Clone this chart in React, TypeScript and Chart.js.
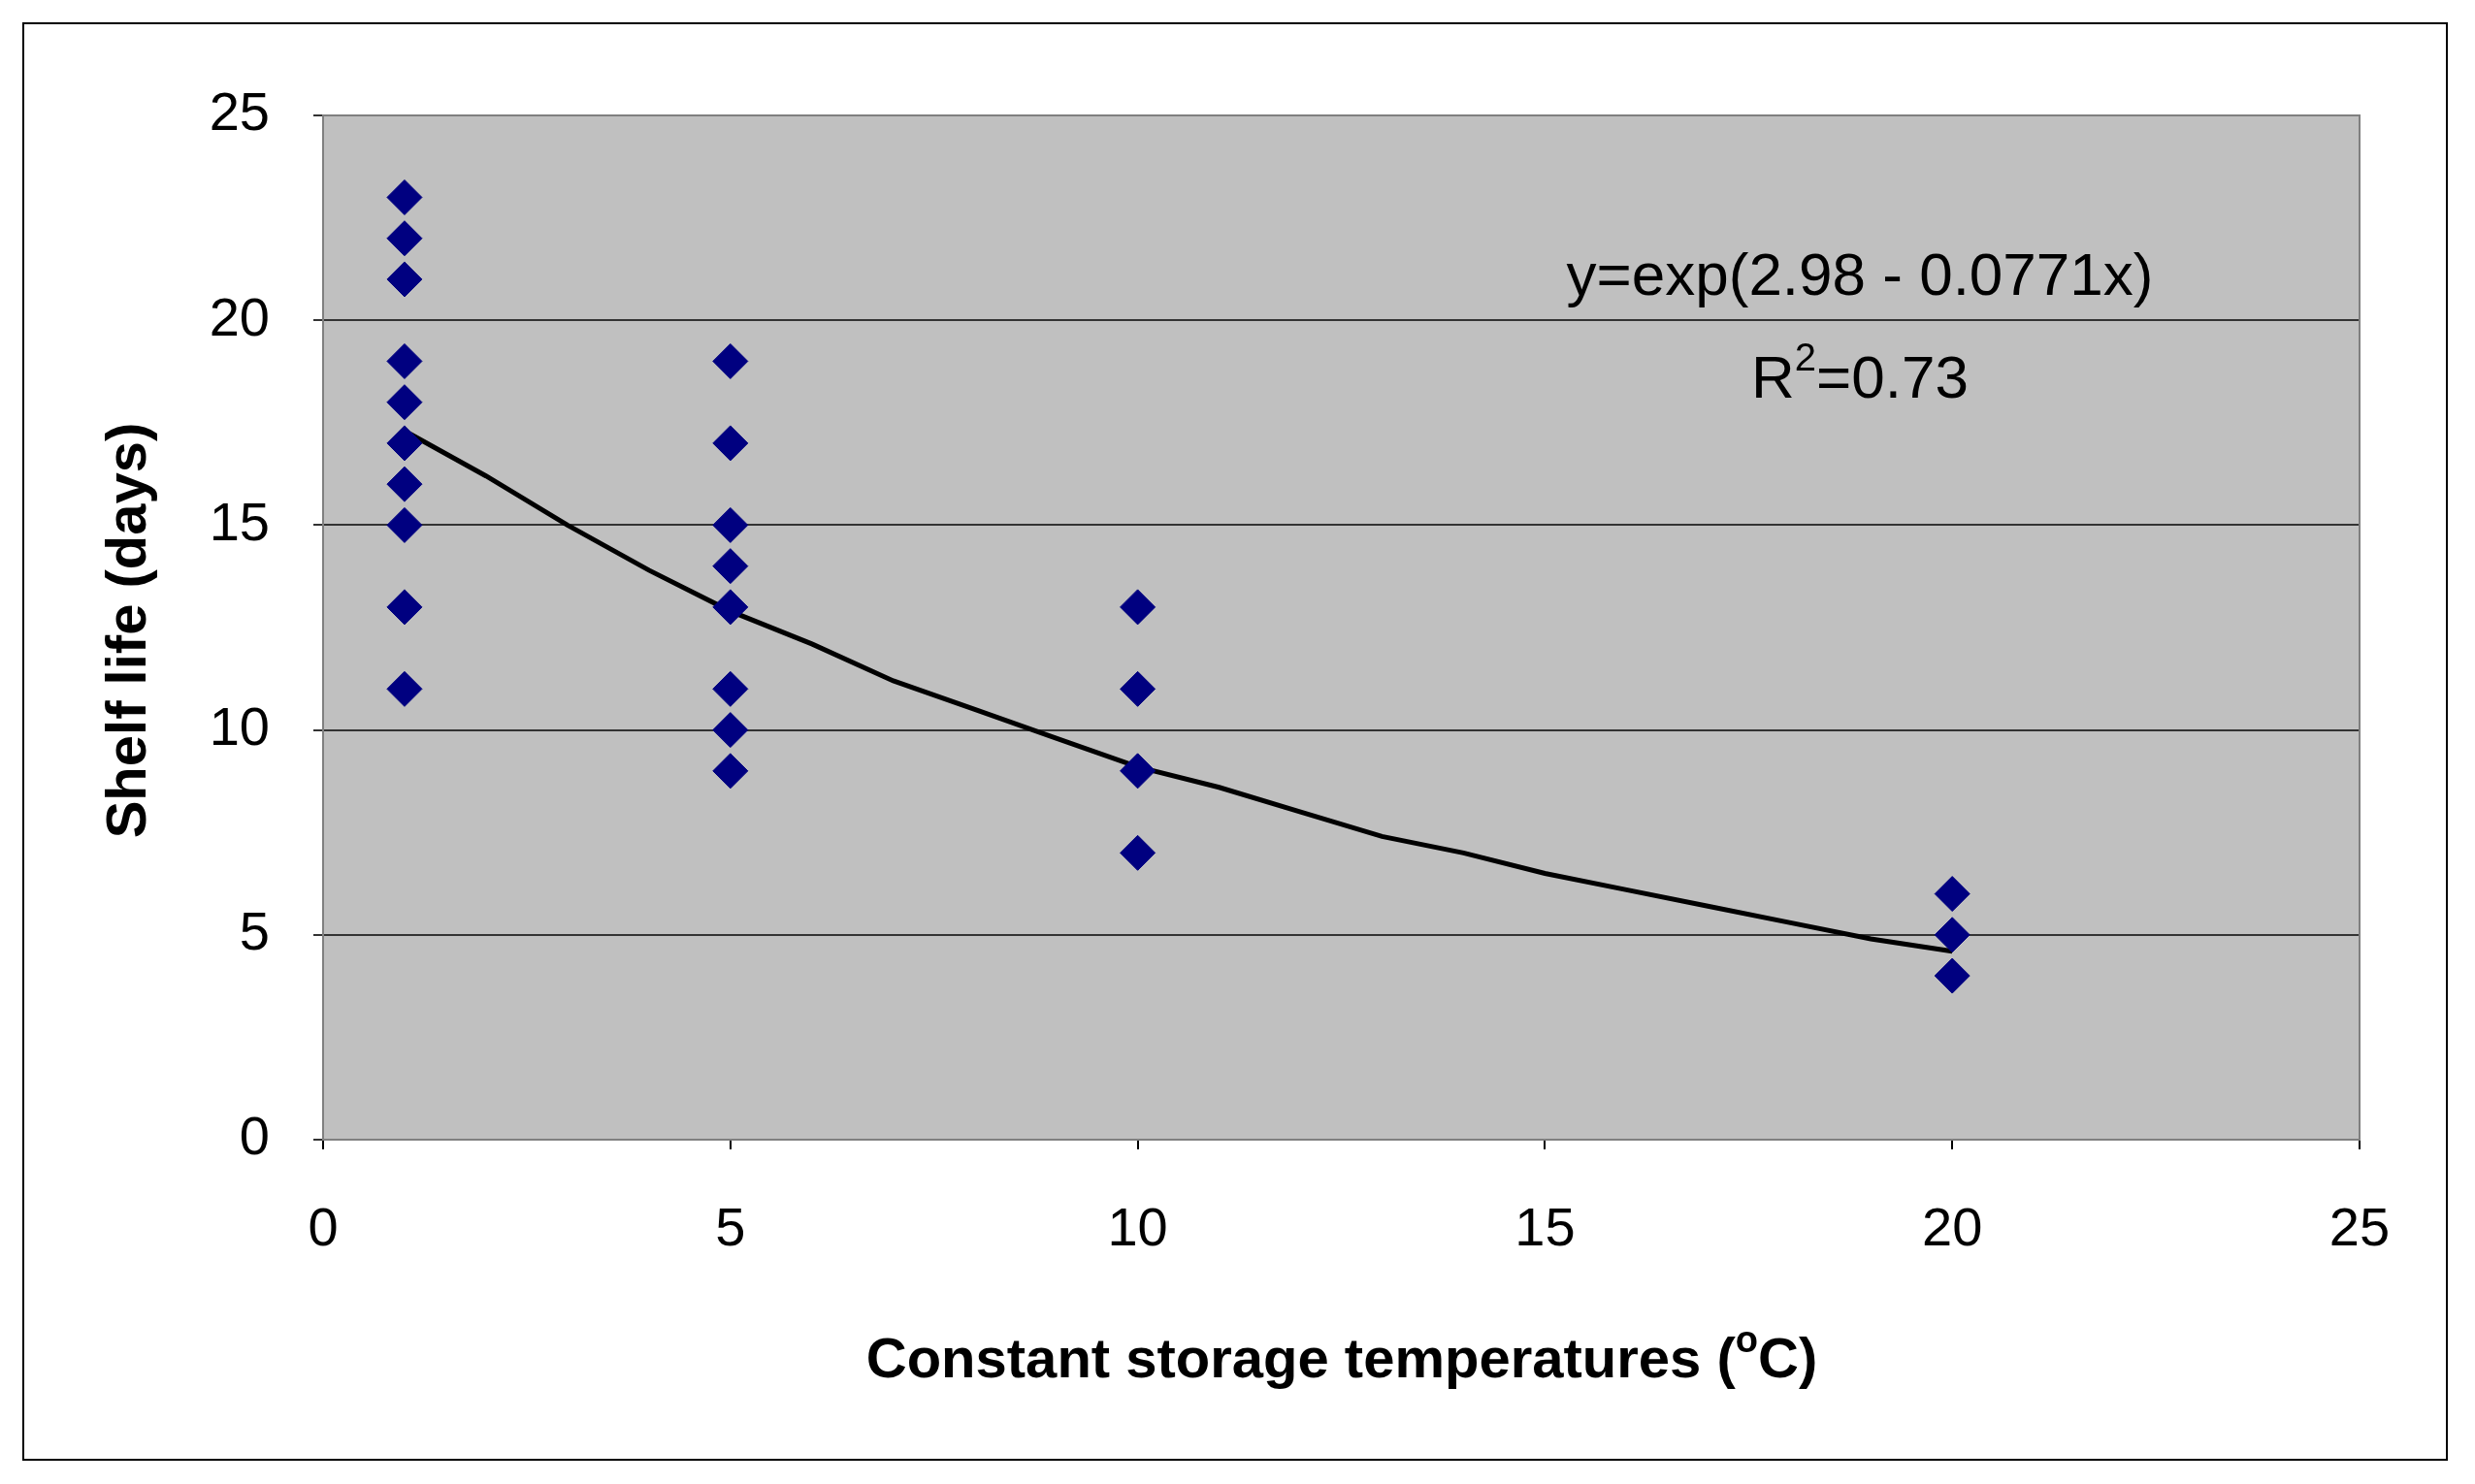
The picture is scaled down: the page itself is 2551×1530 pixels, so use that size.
import React, { useEffect, useRef } from "react";
import { Chart, registerables } from "chart.js";
Chart.register(...registerables);

const temps1 = [1, 1, 1, 1, 1, 1, 1, 1, 1, 1];
const life1 = [23, 22, 21, 19, 18, 17, 16, 15, 13, 11];
const temps5 = [5, 5, 5, 5, 5, 5, 5, 5];
const life5 = [19, 17, 15, 14, 13, 11, 10, 9];
const temps10 = [10, 10, 10, 10];
const life10 = [13, 11, 9, 7];
const temps20 = [20, 20, 20];
const life20 = [6, 5, 4];
const trendX = [1, 2, 3, 4, 5, 6, 7, 8, 9, 10, 11, 12, 13, 14, 15, 16, 17, 18, 19, 20];
const trendY = [17.3, 16.2, 15.0, 13.9, 12.9, 12.1, 11.2, 10.5, 9.8, 9.1, 8.6, 8.0, 7.4, 7.0, 6.5, 6.1, 5.7, 5.3, 4.9, 4.6];

const FONT = "'Liberation Sans', Arial, sans-serif";

function supText(ctx: any, parts: [string, boolean][], cx: number, y: number, big: number, small: number, weight: string) {
  let total = 0;
  for (const [t, s] of parts) {
    ctx.font = `${weight} ${s ? small : big}px ${FONT}`;
    total += ctx.measureText(t).width;
  }
  let x = cx - total / 2;
  ctx.textAlign = "left";
  for (const [t, s] of parts) {
    ctx.font = `${weight} ${s ? small : big}px ${FONT}`;
    ctx.fillText(t, x, s ? y - big * 0.45 : y);
    x += ctx.measureText(t).width;
  }
}

export default function App() {
  const ref = useRef<HTMLCanvasElement>(null);
  useEffect(() => {
    const pts = [
      ...temps1.map((x, i) => ({ x, y: life1[i] })),
      ...temps5.map((x, i) => ({ x, y: life5[i] })),
      ...temps10.map((x, i) => ({ x, y: life10[i] })),
      ...temps20.map((x, i) => ({ x, y: life20[i] })),
    ];
    const deco = {
      id: "deco",
      beforeDraw(c: any) {
        const ctx = c.ctx;
        const a = c.chartArea;
        ctx.save();
        ctx.fillStyle = "#fff";
        ctx.fillRect(0, 0, c.width, c.height);
        ctx.strokeStyle = "#000";
        ctx.lineWidth = 2;
        ctx.strokeRect(24, 24, 2498, 1481);
        ctx.fillStyle = "#c0c0c0";
        ctx.fillRect(a.left, a.top, a.right - a.left, a.bottom - a.top);
        ctx.restore();
      },
      afterDraw(c: any) {
        const ctx = c.ctx;
        const a = c.chartArea;
        ctx.save();
        ctx.strokeStyle = "#808080";
        ctx.lineWidth = 2;
        ctx.strokeRect(a.left, a.top, a.right - a.left, a.bottom - a.top);
        ctx.fillStyle = "#000";
        ctx.textBaseline = "alphabetic";
        ctx.textAlign = "center";
        ctx.font = `62px ${FONT}`;
        ctx.fillText("y=exp(2.98 - 0.0771x)", 1917, 304);
        supText(ctx, [["R", false], ["2", true], ["=0.73", false]], 1917, 410, 62, 40, "normal");
        supText(ctx, [["Constant storage temperatures (", false], ["o", true], ["C)", false]], 1383, 1420, 58, 38, "bold");
        ctx.translate(150, 650);
        ctx.rotate(-Math.PI / 2);
        ctx.textAlign = "center";
        ctx.font = `bold 58px ${FONT}`;
        ctx.fillText("Shelf life (days)", 0, 0);
        ctx.restore();
      },
    };
    const chart = new Chart(ref.current!, {
      type: "scatter",
      data: {
        datasets: [
          {
            type: "line",
            data: trendX.map((x, i) => ({ x, y: trendY[i] })),
            borderColor: "#000",
            borderWidth: 5,
            pointRadius: 0,
            tension: 0,
            order: 2,
          } as any,
          {
            data: pts,
            pointStyle: "rectRot",
            pointRadius: 18,
            backgroundColor: "#000080",
            borderColor: "#000080",
            order: 1,
          },
        ],
      },
      plugins: [deco],
      options: {
        animation: false,
        responsive: false,
        layout: { padding: { left: 0, top: 119, right: 119, bottom: 0 } },
        plugins: { legend: { display: false }, tooltip: { enabled: false } },
        scales: {
          x: {
            type: "linear",
            min: 0,
            max: 25,
            ticks: { stepSize: 5, color: "#000", font: { family: FONT, size: 56 }, padding: 50 },
            grid: { drawOnChartArea: false, color: "#000", tickLength: 10, lineWidth: 2 },
            border: { color: "#808080", width: 2 },
            afterFit: (s: any) => { s.height = 355; },
          },
          y: {
            min: 0,
            max: 25,
            ticks: { stepSize: 5, color: "#000", font: { family: FONT, size: 56 }, padding: 45 },
            grid: { color: "#333", lineWidth: 2, tickLength: 10 },
            border: { color: "#808080", width: 2 },
            afterFit: (s: any) => { s.width = 333; },
          },
        },
      },
    });
    return () => chart.destroy();
  }, []);
  return (
    <div style={{ position: "absolute", left: 0, top: 0 }}>
      <canvas ref={ref} width={2551} height={1530} style={{ display: "block" }} />
    </div>
  );
}
